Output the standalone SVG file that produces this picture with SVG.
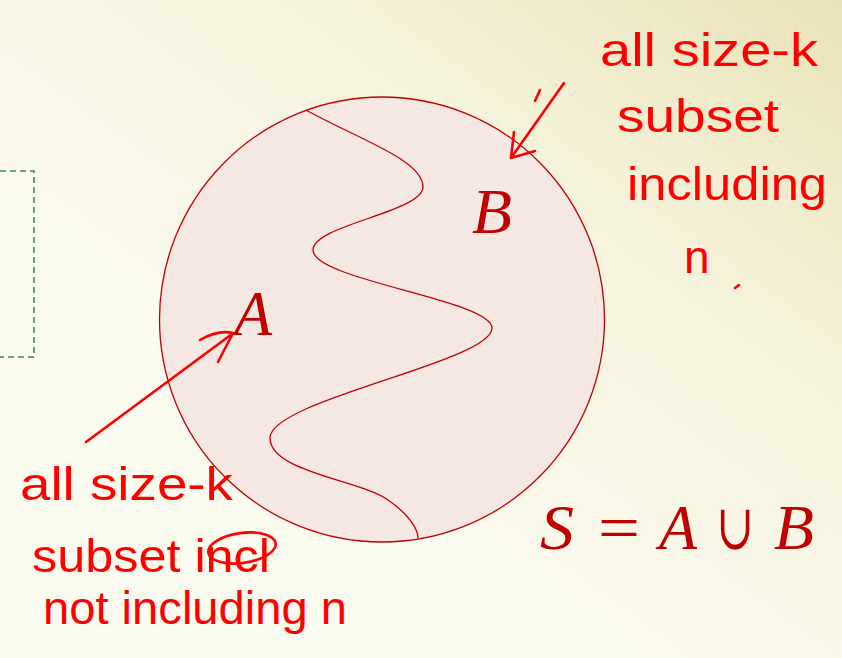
<svg xmlns="http://www.w3.org/2000/svg" width="842" height="658" viewBox="0 0 842 658">
<defs>
<linearGradient id="bg" x1="1" y1="0" x2="0.35" y2="0.7">
<stop offset="0" stop-color="#e9e2b8"/>
<stop offset="0.45" stop-color="#f6f3dc"/>
<stop offset="1" stop-color="#fbfbf0"/>
</linearGradient>
<style>
.math{font-family:"Liberation Serif","DejaVu Serif",serif;font-style:italic;fill:#c00000;font-size:64px}
.mathu{font-family:"Liberation Serif","DejaVu Serif",serif;fill:#c00000;font-size:64px}
.hand{font-family:"Liberation Sans","DejaVu Sans",sans-serif;fill:#ff0000;font-size:46px}
.ink{fill:none;stroke:#ff0000;stroke-width:2.6;stroke-linecap:round;stroke-linejoin:round}
</style>
</defs>
<rect width="842" height="658" fill="url(#bg)"/>
<rect id="dashed-box" x="-10" y="171" width="44" height="186" fill="none" stroke="#3c8c4c" stroke-width="1.6" stroke-dasharray="6,4"/>
<g id="set-S">
<circle cx="382" cy="319.5" r="222.5" fill="#f5e8e2" stroke="#c00000" stroke-width="1.3"/>
<path d="M306,110 C360,140 423,160 423,187 C423,212 313,225 313,250 C313,280 492,300 492,328 C492,362 270,400 270,438 C270,472 360,480 388,500 C410,515 418,530 418,538" fill="none" stroke="#c00000" stroke-width="1.3"/>
</g>
<g id="label-A"><text class="math" x="234" y="335" textLength="38" lengthAdjust="spacingAndGlyphs">A</text></g>
<g id="label-B"><text class="math" x="472" y="233" textLength="40" lengthAdjust="spacingAndGlyphs">B</text></g>
<g id="equation">
<text class="math" x="540" y="549" textLength="34" lengthAdjust="spacingAndGlyphs">S</text>
<text class="mathu" x="598" y="549" textLength="42" lengthAdjust="spacingAndGlyphs">=</text>
<text class="math" x="659" y="549" textLength="38" lengthAdjust="spacingAndGlyphs">A</text>
<text class="mathu" x="716" y="549" textLength="38" lengthAdjust="spacingAndGlyphs">∪</text>
<text class="math" x="774" y="549" textLength="40" lengthAdjust="spacingAndGlyphs">B</text>
</g>
<g id="connectors">
<path class="ink" d="M564,83 L511,158 M514,132 L511,158 L535,151"/>
<path class="ink" d="M540,90 L535,101"/>
<path class="ink" d="M86,442 L232,334 M200,340 C212,333 224,331 233,333 L218,362"/>
</g>
<g id="note-B">
<text class="hand" x="600" y="66" textLength="218" lengthAdjust="spacingAndGlyphs">all size-k</text>
<text class="hand" x="617" y="132" textLength="162" lengthAdjust="spacingAndGlyphs">subset</text>
<text class="hand" x="627" y="200" textLength="200" lengthAdjust="spacingAndGlyphs">including</text>
<text class="hand" x="684" y="273">n</text>
<path class="ink" d="M735,288 L739,285" stroke-width="2"/>
</g>
<g id="note-A">
<text class="hand" x="20" y="500" textLength="213" lengthAdjust="spacingAndGlyphs">all size-k</text>
<text class="hand" x="32" y="572" textLength="238" lengthAdjust="spacingAndGlyphs">subset incl</text>
<ellipse class="ink" cx="242" cy="548" rx="34" ry="15" transform="rotate(-8 242 548)"/>
<text class="hand" x="43" y="624" textLength="304" lengthAdjust="spacingAndGlyphs">not including n</text>
</g>
</svg>
